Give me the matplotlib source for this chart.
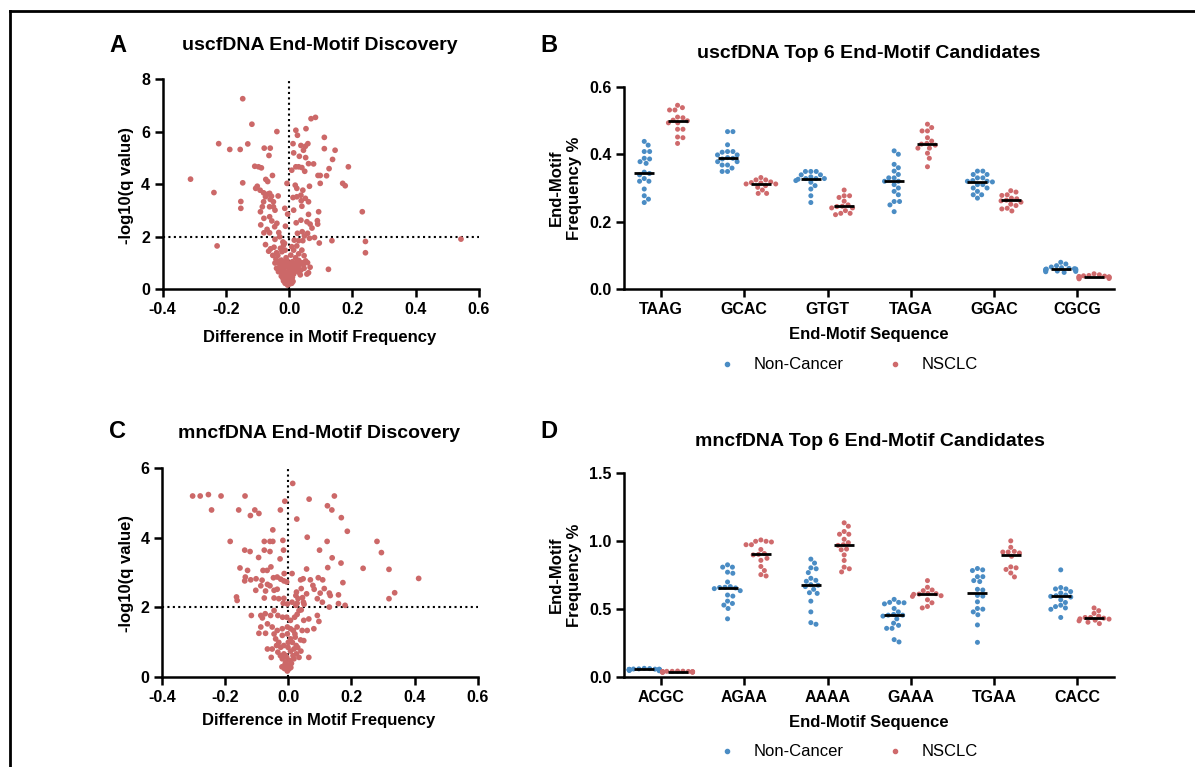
import numpy as np
import matplotlib
matplotlib.use("Agg")
import matplotlib.pyplot as plt
from matplotlib.lines import Line2D

# ---------------- panel A: uscfDNA volcano ----------------
a_diff = [-0.147, -0.312, -0.238, -0.228, -0.223, -0.188, -0.155, -0.131, -0.118, -0.147,
          -0.153, -0.153, -0.039, -0.079, -0.060, -0.064, -0.109, -0.097, -0.088, -0.053,
          -0.074, -0.068, -0.101, -0.106, -0.092, -0.081, -0.068, -0.062, -0.056, -0.075,
          -0.060, -0.081, -0.050, -0.050, -0.045, -0.062, -0.085, -0.091, -0.080, -0.062,
          -0.039, -0.046, -0.070, -0.080, -0.062, -0.033, -0.030, -0.014, -0.005, -0.012,
          -0.075, -0.059, -0.040, -0.028, -0.018, -0.052, -0.036, -0.023, -0.013, -0.045,
          -0.020, -0.090, -0.055, -0.035,
          0.021, 0.026, 0.053, 0.069, 0.083, 0.012, 0.014, 0.037, 0.051, 0.059,
          0.045, 0.032, 0.052, 0.077, 0.061, 0.021, 0.030, 0.040, 0.008, 0.049,
          0.111, 0.111, 0.145, 0.137, 0.126, 0.187, 0.091, 0.098, 0.118, 0.064,
          0.098, 0.169, 0.177, -0.007, 0.019, 0.024, 0.043, 0.012, 0.024, 0.037,
          0.051, 0.038, 0.061, 0.040, 0.014, 0.061, 0.093, 0.231, 0.022, 0.037,
          0.056, 0.066, 0.089, 0.090, 0.072, 0.041, 0.058, 0.080, 0.048, 0.026,
          0.016, 0.030, 0.043, 0.064, 0.095, 0.135, 0.241, 0.241, 0.124, 0.066,
          0.058, 0.047, 0.040, 0.024, 0.014, 0.056, 0.061, 0.543,
          -0.034, -0.025, -0.016, -0.007, 0.003, 0.012, 0.022, 0.032, 0.040, -0.028,
          -0.018, -0.007, 0.001, 0.008, 0.024, 0.037, 0.047, -0.034, -0.023, -0.013,
          -0.005, 0.003, 0.014, -0.020, -0.009, -0.002, 0.005, -0.013, 0.001, 0.008,
          -0.005, -0.065, -0.048, -0.010, 0.005, 0.020, 0.030, -0.042, 0.030, -0.015,
          0.008, -0.030, -0.020, -0.010, 0.000, 0.010, 0.018, 0.028, -0.040, -0.030,
          -0.015, -0.005, 0.005, 0.018, 0.030, -0.025, -0.010, 0.010, -0.018, 0.012,
          -0.008, 0.045, 0.052, -0.045, 0.035]
a_logq = [7.25, 4.19, 3.68, 1.65, 5.54, 5.32, 5.32, 5.53, 6.28, 4.05,
          3.34, 3.08, 6.00, 5.37, 5.37, 5.09, 4.68, 4.66, 4.62, 4.33,
          4.18, 4.10, 3.92, 3.84, 3.77, 3.67, 3.62, 3.65, 3.54, 3.52,
          3.42, 3.33, 3.33, 3.14, 3.01, 3.14, 3.14, 2.95, 2.70, 2.76,
          2.51, 2.38, 2.28, 2.15, 2.15, 2.16, 2.00, 3.08, 2.86, 2.40,
          1.70, 1.54, 1.39, 1.56, 1.68, 1.29, 1.29, 1.43, 1.49, 1.90,
          1.80, 2.45, 2.60, 3.55,
          6.05, 5.86, 6.11, 6.49, 6.54, 5.54, 5.19, 5.47, 5.44, 5.54,
          5.29, 5.06, 5.01, 4.77, 4.78, 4.66, 4.66, 4.63, 4.53, 4.49,
          5.78, 5.35, 5.29, 4.94, 4.59, 4.66, 4.33, 4.33, 4.32, 3.92,
          4.03, 4.03, 3.94, 4.03, 3.96, 3.84, 3.77, 3.49, 3.52, 3.58,
          3.46, 3.37, 3.33, 3.16, 3.01, 2.85, 2.95, 2.95, 2.53, 2.63,
          2.57, 2.48, 2.61, 2.48, 2.33, 2.19, 2.13, 1.97, 2.03, 2.13,
          1.87, 1.85, 1.85, 1.94, 1.76, 1.85, 1.82, 1.39, 0.76, 0.84,
          1.01, 1.28, 1.49, 1.65, 1.49, 0.58, 0.63, 1.91,
          1.05, 1.11, 1.01, 1.09, 0.99, 0.92, 1.01, 0.92, 1.01, 0.86,
          0.80, 0.86, 0.73, 0.80, 0.76, 0.73, 0.80, 0.67, 0.61, 0.58,
          0.48, 0.54, 0.58, 0.42, 0.35, 0.29, 0.38, 0.23, 0.20, 0.23,
          0.16, 1.45, 1.60, 1.20, 1.30, 1.20, 1.35, 1.15, 1.10, 1.75,
          1.62, 0.95, 0.90, 0.95, 0.90, 1.05, 0.85, 0.85, 0.80, 0.75,
          0.70, 0.65, 0.65, 0.68, 0.65, 0.50, 0.52, 0.45, 0.32, 0.30,
          0.27, 0.95, 1.08, 1.00, 0.55]

# ---------------- panel C: mncfDNA volcano ----------------
c_diff = [-0.303, -0.279, -0.253, -0.213, -0.243, -0.137, -0.157, -0.106, -0.120, -0.093,
          -0.025, -0.011, 0.014, 0.066, 0.146, 0.124, 0.138, 0.027, 0.168, 0.187,
          -0.049, -0.184, -0.076, -0.058, -0.049, -0.017, 0.060, 0.123, 0.281, 0.295,
          -0.138, -0.121, -0.076, -0.058, -0.015, 0.099, -0.094, -0.026, 0.139, 0.167,
          -0.153, -0.129, -0.080, -0.067, -0.055, 0.058, 0.125, 0.237, 0.319, 0.413,
          -0.013, 0.012, -0.136, -0.138, -0.119, -0.102, -0.083, -0.066, -0.058, -0.047,
          -0.035, -0.024, -0.014, -0.005, -0.087, -0.103, -0.072, -0.045, -0.035, 0.039,
          0.047, 0.070, 0.095, 0.109, 0.078, 0.173, 0.082, 0.114, 0.041, 0.058,
          0.101, 0.130, 0.133, 0.159, 0.026, 0.024, 0.031, 0.045, 0.048, 0.028,
          0.024, 0.050, 0.092, 0.108, 0.159, 0.180, 0.130, 0.319, 0.337, -0.164,
          -0.162, -0.076, -0.045, -0.030, -0.014, 0.012, -0.016, -0.003,
          -0.117, -0.087, -0.082, -0.073, -0.056, -0.045, -0.033, -0.018, -0.005, 0.007,
          0.020, 0.028, 0.034, 0.041, 0.049, 0.065, 0.092, 0.097, 0.081, 0.060,
          0.044, 0.028, 0.016, 0.007, -0.003, -0.019, -0.035, -0.051, -0.066, -0.087,
          -0.093, -0.072, -0.045, -0.019, -0.003, 0.021, 0.039, 0.049, 0.065, -0.066,
          -0.051, -0.054, -0.033, -0.030, -0.014, -0.001, 0.007, 0.018, 0.026, 0.034,
          0.018, -0.019, -0.008, -0.001, 0.005, -0.014, -0.024, -0.037, 0.002, -0.005,
          0.000, 0.013, 0.025, 0.007, -0.010, 0.010, -0.008,
          -0.020, -0.012, 0.008, -0.003, 0.015, -0.025, 0.030, -0.040, 0.022, 0.040]
c_logq = [5.19, 5.19, 5.23, 5.19, 4.79, 5.19, 4.79, 4.79, 4.63, 4.69,
          4.79, 5.04, 5.55, 5.10, 5.19, 4.91, 4.79, 4.53, 4.57, 4.18,
          4.22, 3.89, 3.89, 3.89, 3.89, 3.92, 4.01, 3.89, 3.89, 3.57,
          3.64, 3.60, 3.64, 3.60, 3.64, 3.64, 3.43, 3.39, 3.42, 3.27,
          3.13, 3.06, 3.06, 3.06, 3.16, 3.10, 3.14, 3.12, 3.09, 2.83,
          2.97, 2.97, 2.87, 2.76, 2.79, 2.82, 2.78, 2.66, 2.62, 2.85,
          2.87, 2.81, 2.76, 2.73, 2.62, 2.49, 2.47, 2.49, 2.52, 2.79,
          2.82, 2.79, 2.85, 2.79, 2.63, 2.71, 2.52, 2.54, 2.54, 2.39,
          2.41, 2.41, 2.34, 2.36, 2.44, 2.34, 2.25, 2.28, 2.15, 2.12,
          2.06, 2.09, 2.25, 2.15, 2.11, 2.06, 2.01, 2.25, 2.42, 2.30,
          2.20, 2.27, 2.27, 2.25, 2.26, 2.15, 2.12, 2.10,
          1.77, 1.77, 1.70, 1.82, 1.77, 1.91, 1.77, 1.72, 1.72, 1.63,
          1.72, 1.80, 1.91, 1.93, 1.63, 1.67, 1.77, 1.60, 1.39, 1.34,
          1.34, 1.44, 1.34, 1.39, 1.44, 1.39, 1.34, 1.44, 1.53, 1.44,
          1.26, 1.26, 1.24, 1.20, 1.24, 1.24, 1.07, 1.05, 0.57, 0.81,
          0.81, 0.57, 0.72, 1.00, 0.91, 0.86, 0.75, 0.81, 0.67, 0.57,
          0.53, 0.53, 0.43, 0.33, 0.48, 0.67, 0.86, 0.91, 0.24, 0.57,
          1.00, 1.00, 0.91, 1.10, 0.38, 0.40, 0.62,
          0.30, 0.25, 0.28, 0.18, 0.62, 0.62, 0.85, 1.10, 1.15, 0.75]

# ---------------- panel B: uscfDNA top 6 ----------------
b_motifs = ["TAAG", "GCAC", "GTGT", "TAGA", "GGAC", "CGCG"]
b_noncancer = [
    [0.438, 0.427, 0.408, 0.408, 0.388, 0.386, 0.378, 0.373, 0.347, 0.343, 0.339, 0.328, 0.320, 0.320, 0.297, 0.277, 0.267, 0.257],
    [0.467, 0.467, 0.428, 0.408, 0.408, 0.406, 0.398, 0.398, 0.390, 0.388, 0.386, 0.378, 0.378, 0.368, 0.368, 0.359, 0.349, 0.349],
    [0.349, 0.349, 0.349, 0.339, 0.339, 0.333, 0.328, 0.328, 0.328, 0.326, 0.322, 0.317, 0.307, 0.297, 0.277, 0.257],
    [0.410, 0.400, 0.370, 0.360, 0.350, 0.340, 0.330, 0.330, 0.320, 0.320, 0.310, 0.300, 0.290, 0.280, 0.260, 0.260, 0.250, 0.230],
    [0.350, 0.350, 0.340, 0.340, 0.330, 0.330, 0.322, 0.320, 0.320, 0.318, 0.310, 0.310, 0.300, 0.300, 0.290, 0.280, 0.280, 0.270],
    [0.080, 0.075, 0.070, 0.066, 0.064, 0.062, 0.061, 0.060, 0.060, 0.059, 0.058, 0.057, 0.056, 0.055, 0.054, 0.053, 0.052, 0.050],
]
b_nsclc = [
    [0.545, 0.538, 0.531, 0.531, 0.510, 0.508, 0.501, 0.499, 0.493, 0.493, 0.474, 0.474, 0.451, 0.449, 0.432],
    [0.331, 0.324, 0.324, 0.318, 0.316, 0.315, 0.312, 0.312, 0.307, 0.302, 0.294, 0.284, 0.284],
    [0.294, 0.277, 0.277, 0.272, 0.261, 0.250, 0.246, 0.245, 0.241, 0.241, 0.233, 0.225, 0.225, 0.221],
    [0.489, 0.479, 0.469, 0.469, 0.449, 0.439, 0.432, 0.430, 0.427, 0.418, 0.418, 0.403, 0.388, 0.363],
    [0.292, 0.288, 0.280, 0.278, 0.270, 0.268, 0.264, 0.262, 0.258, 0.252, 0.248, 0.240, 0.238, 0.232],
    [0.046, 0.043, 0.041, 0.040, 0.039, 0.038, 0.037, 0.037, 0.036, 0.035, 0.034, 0.033, 0.032, 0.031],
]

# ---------------- panel D: mncfDNA top 6 ----------------
d_motifs = ["ACGC", "AGAA", "AAAA", "GAAA", "TGAA", "CACC"]
d_noncancer = [
    [0.066, 0.064, 0.062, 0.061, 0.060, 0.060, 0.059, 0.058, 0.058, 0.057, 0.056, 0.055, 0.055, 0.054, 0.053, 0.052, 0.050, 0.048],
    [0.827, 0.810, 0.810, 0.773, 0.765, 0.701, 0.667, 0.662, 0.660, 0.657, 0.652, 0.637, 0.605, 0.597, 0.560, 0.543, 0.531, 0.506, 0.430],
    [0.869, 0.840, 0.805, 0.798, 0.770, 0.728, 0.713, 0.706, 0.681, 0.677, 0.667, 0.647, 0.622, 0.617, 0.560, 0.481, 0.402, 0.390],
    [0.573, 0.551, 0.551, 0.548, 0.540, 0.506, 0.481, 0.462, 0.457, 0.457, 0.450, 0.430, 0.398, 0.382, 0.360, 0.360, 0.277, 0.260],
    [0.800, 0.790, 0.785, 0.740, 0.740, 0.711, 0.704, 0.647, 0.642, 0.602, 0.597, 0.555, 0.506, 0.501, 0.481, 0.460, 0.385, 0.257],
    [0.790, 0.660, 0.650, 0.650, 0.630, 0.620, 0.605, 0.600, 0.595, 0.590, 0.570, 0.550, 0.530, 0.520, 0.510, 0.500, 0.440],
]
d_nsclc = [
    [0.046, 0.045, 0.044, 0.044, 0.043, 0.042, 0.042, 0.041, 0.040, 0.040, 0.039, 0.038, 0.037, 0.036],
    [1.010, 1.000, 1.000, 0.995, 0.975, 0.975, 0.940, 0.910, 0.904, 0.900, 0.875, 0.860, 0.815, 0.785, 0.755, 0.745],
    [1.136, 1.111, 1.072, 1.052, 1.052, 1.015, 0.990, 0.975, 0.970, 0.943, 0.938, 0.900, 0.859, 0.810, 0.798, 0.775],
    [0.711, 0.662, 0.642, 0.637, 0.617, 0.615, 0.612, 0.610, 0.600, 0.595, 0.570, 0.548, 0.521, 0.510],
    [1.003, 0.956, 0.926, 0.921, 0.921, 0.914, 0.890, 0.812, 0.805, 0.793, 0.767, 0.738],
    [0.510, 0.490, 0.470, 0.450, 0.440, 0.440, 0.435, 0.430, 0.428, 0.420, 0.415, 0.405, 0.395],
]

groups = ["Non-Cancer", "NSCLC"]
BLUE = "#4a8cc4"
RED = "#cf6a6c"
VOLCANO_RED = "#cc6868"

plt.rcParams['font.family'] = ['Liberation Sans', 'DejaVu Sans']
plt.rcParams['axes.unicode_minus'] = False

W, H = 1195, 767
fig = plt.figure(figsize=(W / 100, H / 100), dpi=100)


def px_axes(left, top, right, bottom):
    return fig.add_axes([left / W, 1 - bottom / H, (right - left) / W, (bottom - top) / H])


def ftext(x, y, s, **kw):
    fig.text(x / W, 1 - y / H, s, ha=kw.pop("ha", "center"), va=kw.pop("va", "center"), **kw)


def style_axes(ax, size=11.5):
    for side in ["top", "right"]:
        ax.spines[side].set_visible(False)
    for side in ["left", "bottom"]:
        ax.spines[side].set_linewidth(1.8)
    ax.tick_params(direction="out", length=6, width=1.8, labelsize=size, pad=3)
    for lab in ax.get_xticklabels() + ax.get_yticklabels():
        lab.set_fontweight("bold")


def volcano(ax, diff, logq, ymax):
    ax.scatter(diff, logq, s=17, color=VOLCANO_RED, edgecolor="none", zorder=3, clip_on=False)
    ax.axvline(0, color="black", lw=1.5, ls=(0, (1, 1.6)), zorder=2)
    ax.axhline(2, color="black", lw=1.5, ls=(0, (1, 1.6)), zorder=2)
    ax.set_xlim(-0.4, 0.6)
    ax.set_ylim(0, ymax)
    ax.set_xticks([-0.4, -0.2, 0.0, 0.2, 0.4, 0.6])
    ax.set_xticklabels(["-0.4", "-0.2", "0.0", "0.2", "0.4", "0.6"])
    ax.set_yticks(np.arange(0, ymax + 1, 2))
    style_axes(ax)


def swarm_offsets(vals, px_per_unit, diam=5.4, max_half=15.0):
    # simple beeswarm in pixel space, points that do not fit are pushed to the edge
    vals = np.asarray(vals)
    ys = vals * px_per_unit
    xs = np.zeros(len(vals))
    placed = []
    for i in np.argsort(-vals):
        cands = [0.0]
        for j in placed:
            dy = ys[i] - ys[j]
            if abs(dy) < diam:
                dx = np.sqrt(diam ** 2 - dy ** 2)
                cands += [xs[j] + dx, xs[j] - dx]
        cands.sort(key=abs)
        best = None
        for c in cands:
            if all((c - xs[j]) ** 2 + (ys[i] - ys[j]) ** 2 >= diam ** 2 - 1e-6 for j in placed):
                best = c
                break
        if best is None or abs(best) > max_half:
            best = np.clip(best if best is not None else 0.0, -max_half, max_half)
        xs[i] = best
        placed.append(i)
    return xs


def swarm(ax, motifs, nc, ns, yticks, ylim, ax_h_px, ax_w_px, xlim):
    px_per_unit = ax_h_px / (ylim[1] - ylim[0])
    px_per_cat = ax_w_px / (xlim[1] - xlim[0])
    for i in range(len(motifs)):
        for vals, off, col in ((nc[i], -0.2, BLUE), (ns[i], 0.2, RED)):
            dx = swarm_offsets(vals, px_per_unit) / px_per_cat
            ax.scatter(i + off + dx, vals, s=13, color=col, edgecolor="none", zorder=3)
            med = np.median(vals)
            ax.hlines(med, i + off - 0.12, i + off + 0.12, color="black", lw=2, zorder=5)
    ax.set_xlim(*xlim)
    ax.set_ylim(*ylim)
    ax.set_xticks(range(len(motifs)))
    ax.set_xticklabels(motifs)
    ax.set_yticks(yticks)
    ax.set_yticklabels([f"{t:.1f}" for t in yticks])
    style_axes(ax)


def legend(y):
    handles = [Line2D([], [], ls="", marker="o", markersize=3, color=c) for c in (BLUE, RED)]
    fig.legend(handles, groups, loc="center", bbox_to_anchor=(848 / W, 1 - y / H), ncol=2,
               frameon=False, fontsize=12, handletextpad=1.1, columnspacing=2.6,
               handlelength=1.0)


# panel A
axA = px_axes(162.7, 79, 479, 289.3)
volcano(axA, a_diff, a_logq, 8)
ftext(118, 45, "A", fontsize=17, fontweight="bold")
ftext(320, 45, "uscfDNA End-Motif Discovery", fontsize=14, fontweight="bold")
ftext(320, 337, "Difference in Motif Frequency", fontsize=12, fontweight="bold")
ftext(126, 186, "-log10(q value)", fontsize=12, fontweight="bold", rotation=90)

# panel C
axC = px_axes(162, 467.7, 477.7, 677.3)
volcano(axC, c_diff, c_logq, 6)
ftext(118, 432, "C", fontsize=17, fontweight="bold")
ftext(319, 434, "mncfDNA End-Motif Discovery", fontsize=14, fontweight="bold")
ftext(319, 721, "Difference in Motif Frequency", fontsize=12, fontweight="bold")
ftext(126, 574, "-log10(q value)", fontsize=12, fontweight="bold", rotation=90)

# panel B
axB = px_axes(624, 86.7, 1113.8, 289.3)
swarm(axB, b_motifs, b_noncancer, b_nsclc, [0.0, 0.2, 0.4, 0.6], (0, 0.6), 202.6, 489.8,
      (-0.443, 5.437))
ftext(549, 45, "B", fontsize=17, fontweight="bold")
ftext(869, 54, "uscfDNA Top 6 End-Motif Candidates", fontsize=14, fontweight="bold")
ftext(869, 335, "End-Motif Sequence", fontsize=12, fontweight="bold")
ftext(565, 188, "End-Motif\nFrequency %", fontsize=12, fontweight="bold", rotation=90,
      multialignment="center", linespacing=1.25)
legend(365)

# panel D
axD = px_axes(624, 473.3, 1113.8, 677.3)
swarm(axD, d_motifs, d_noncancer, d_nsclc, [0.0, 0.5, 1.0, 1.5], (0, 1.5), 204, 489.8,
      (-0.443, 5.437))
ftext(549, 432, "D", fontsize=17, fontweight="bold")
ftext(870, 442, "mncfDNA Top 6 End-Motif Candidates", fontsize=14, fontweight="bold")
ftext(869, 722, "End-Motif Sequence", fontsize=12, fontweight="bold")
ftext(565, 575, "End-Motif\nFrequency %", fontsize=12, fontweight="bold", rotation=90,
      multialignment="center", linespacing=1.25)
legend(752)

# frame lines of the original screenshot
fig.add_artist(Line2D([10 / W, 1], [1 - 11 / H, 1 - 11 / H], color="black", lw=2,
                      transform=fig.transFigure))
fig.add_artist(Line2D([10 / W, 10 / W], [0, 1 - 11 / H], color="black", lw=2,
                      transform=fig.transFigure))

fig.savefig("out.png", dpi=100)
